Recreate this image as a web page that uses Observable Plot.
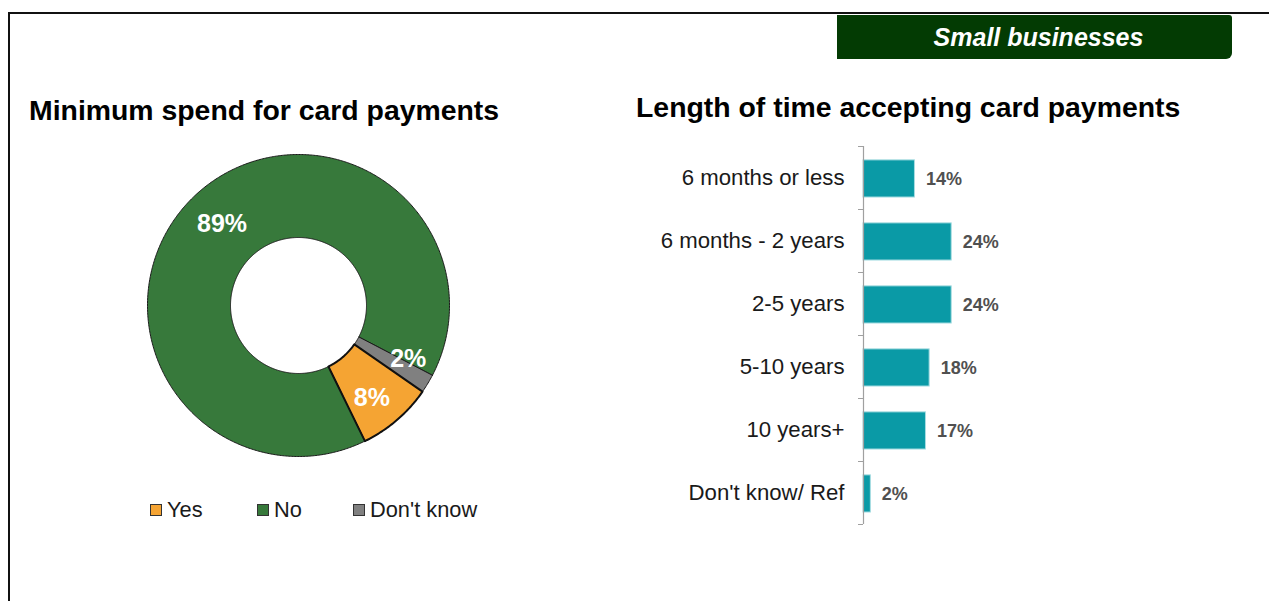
<!DOCTYPE html>
<html><head><meta charset="utf-8">
<script src="https://cdn.jsdelivr.net/npm/d3@7"></script>
<script src="https://cdn.jsdelivr.net/npm/@observablehq/plot@0.6"></script>
<style>
body{margin:0;width:1269px;height:601px;overflow:hidden;background:#fff;font-family:"Liberation Sans",Arial,sans-serif;position:relative}
#frame{position:absolute;left:8px;top:12px;width:1400px;height:800px;border-left:2px solid #111;border-top:2px solid #111}
#badge{position:absolute;left:837px;top:15px;width:395px;height:44px;background:#033b03;border-radius:0 3px 6px 0;color:#fff;font-weight:bold;font-style:italic;font-size:25px;display:flex;align-items:center;justify-content:center;padding-left:8px;box-sizing:border-box}
.title{position:absolute;font-weight:bold;font-size:28.4px;line-height:28px;color:#000;white-space:nowrap}
#t1{left:29px;top:96px}
#t2{left:636px;top:93px}
#donut{position:absolute;left:128px;top:135px}
#bars{position:absolute;left:641px;top:136px}
#donut svg,#bars svg{display:block;overflow:visible}
.lg{position:absolute;top:499px;font-size:21.8px;line-height:21px;color:#1a1a1a;display:flex;align-items:center;white-space:nowrap}
.lg span.sw{display:inline-block;width:10px;height:10px;border:1.5px solid #333;margin-right:5px}
</style></head><body>
<div id="frame"></div>
<div id="badge">Small businesses</div>
<div class="title" id="t1">Minimum spend for card payments</div>
<div class="title" id="t2">Length of time accepting card payments</div>
<div id="donut"></div>
<div id="legend"></div>
<div id="bars"></div>
<script>
// ---- data ----
const donutCategories = ["Yes", "No", "Don't know"];
const donutValues = [8, 89, 2];
const donutColors = ["#f5a433", "#37793b", "#808080"];
const barCategories = ["6 months or less", "6 months - 2 years", "2-5 years", "5-10 years", "10 years+", "Don't know/ Ref"];
const barValues = [14, 24, 24, 18, 17, 2];

// label nudges (style only, pixels)
const labelDx = [2, 0, 16];
const labelDy = [9, -3, -3];

// ---- donut ----
const R0 = 68, R1 = 151;
const start = 124.8 * Math.PI / 180;
const arcs = d3.pie().sort(null).startAngle(start).endAngle(start + 2 * Math.PI)(donutValues);
const pts = [];
const labels = [];
arcs.forEach((a, i) => {
  const key = donutCategories[i];
  const n = Math.max(4, Math.ceil((a.endAngle - a.startAngle) / 0.01));
  const ring = [];
  for (let k = 0; k <= n; k++) { const t = a.startAngle + (a.endAngle - a.startAngle) * k / n; ring.push([R1 * Math.sin(t), R1 * Math.cos(t)]); }
  for (let k = n; k >= 0; k--) { const t = a.startAngle + (a.endAngle - a.startAngle) * k / n; ring.push([R0 * Math.sin(t), R0 * Math.cos(t)]); }
  ring.push(ring[0]);
  ring.forEach(([x, y]) => pts.push({key, x, y}));
  const m = (a.startAngle + a.endAngle) / 2, rm = (R0 + R1) / 2;
  labels.push({key, i, x: rm * Math.sin(m), y: rm * Math.cos(m), label: donutValues[i] + "%"});
});

const donut = Plot.plot({
  width: 340, height: 340, margin: 0,
  style: {fontFamily: "Liberation Sans, Arial, sans-serif", background: "transparent"},
  x: {domain: [-170, 170], axis: null},
  y: {domain: [-170, 170], axis: null},
  color: {domain: donutCategories, range: donutColors},
  marks: [
    Plot.line(pts, {x: "x", y: "y", z: "key", fill: "key", stroke: "#1a1a1a", strokeWidth: 1}),
    Plot.line(pts.filter(d => d.key === "Yes"), {x: "x", y: "y", stroke: "#111", strokeWidth: 2, fill: "none"}),
    ...labels.map(l => Plot.text([l], {x: "x", y: "y", text: "label", dx: labelDx[l.i], dy: labelDy[l.i], fill: "white", fontSize: 25, fontWeight: "bold"}))
  ]
});
document.getElementById("donut").appendChild(donut);

// legend
const legendX = [150, 257, 353];
const lg = document.getElementById("legend");
donutCategories.forEach((c, i) => {
  const d = document.createElement("div");
  d.className = "lg";
  d.style.left = legendX[i] + "px";
  d.innerHTML = `<span class="sw" style="background:${donutColors[i]}"></span>${c}`;
  lg.appendChild(d);
});

// ---- bars ----
const barData = barCategories.map((c, i) => ({c, i, v: barValues[i]}));
const bars = Plot.plot({
  width: 429, height: 398, marginLeft: 222, marginRight: 60, marginTop: 10, marginBottom: 10,
  style: {fontFamily: "Liberation Sans, Arial, sans-serif", background: "transparent"},
  x: {domain: [0, 40], axis: null},
  y: {domain: [0, 6], reverse: true, axis: null},
  marks: [
    Plot.rectX(barData, {x: "v", y1: d => d.i + 0.22, y2: d => d.i + 0.81, fill: "#0a9aa6", stroke: "#a8dde2", strokeWidth: 1}),
    Plot.ruleX([0], {y1: 0, y2: 6, stroke: "#a0a0a0", strokeWidth: 1.2}),
    Plot.axisY(d3.range(7), {tickSize: 5, tickFormat: () => "", stroke: "#a0a0a0", label: null}),
    Plot.axisY(barData.map(d => d.i + 0.5), {tickSize: 0, tickPadding: 19, tickFormat: v => barCategories[Math.floor(v)], fontSize: 22.2, fill: "#1a1a1a", label: null}),
    Plot.text(barData, {x: "v", y: d => d.i + 0.52, text: d => d.v + "%", dx: 11, textAnchor: "start", fontSize: 18, fontWeight: "bold", fill: "#505050"})
  ]
});
document.getElementById("bars").appendChild(bars);
</script>
</body></html>
